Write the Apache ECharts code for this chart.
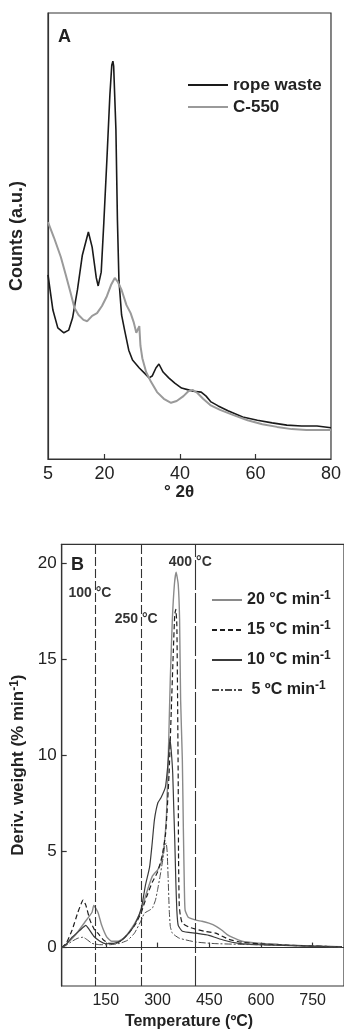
<!DOCTYPE html>
<html><head><meta charset="utf-8">
<script src="https://cdn.jsdelivr.net/npm/echarts@6/dist/echarts.min.js"></script>
<style>html,body{margin:0;padding:0;background:#fff}#c{width:344px;height:1032px}</style>
</head><body><div id="c"></div>
<script>
const FONT = '"Liberation Sans", Arial, Helvetica, sans-serif';

// ---------- Panel A (XRD) ----------
const ropeTheta  = [5.0,6.3,7.6,9.2,10.5,11.5,12.8,14.1,15.7,16.7,17.8,18.3,19.1,19.8,20.6,21.4,21.9,22.2,22.4,23.0,23.4,23.8,24.5,25.3,26.4,27.4,29.2,30.5,31.8,32.6,33.6,34.4,35.5,37.0,38.6,40.4,42.2,43.5,45.6,46.9,48.2,50.1,52.7,56.6,60.5,64.4,68.3,72.2,76.3,80];
const ropeCounts = [41.3,33.4,29.4,28.3,28.9,31.6,37.9,45.7,50.9,47.5,40.6,38.8,41.9,53.1,67.0,81.6,88.3,89.2,88.1,73.8,53.6,40.1,32.3,28.9,24.4,22.2,20.4,19.3,18.2,18.6,20.4,21.3,19.5,18.2,17.0,15.9,15.5,15.2,15.0,14.1,12.8,11.9,10.8,9.4,8.7,8.1,7.6,7.4,7.4,7.0];
const c550Theta  = [5.0,6.6,8.4,9.7,11.0,12.0,13.1,14.4,15.4,16.7,18.0,19.3,20.6,21.7,22.7,23.5,24.5,25.8,26.9,27.7,28.4,29.2,29.5,30.0,31.0,32.3,33.9,35.7,37.6,39.1,40.9,42.2,43.3,44.6,46.1,48.0,50.6,54.0,57.9,61.8,65.7,69.6,73.5,80];
const c550Counts = [53.1,49.6,45.3,41.3,37.2,33.9,32.3,31.2,30.9,32.1,32.7,34.3,36.5,39.0,40.6,39.7,37.9,34.5,32.7,30.7,28.3,29.8,25.4,22.6,19.5,17.3,15.0,13.5,12.6,13.0,14.1,15.2,15.5,14.8,13.5,12.1,11.0,9.9,8.7,7.8,7.2,6.7,6.5,6.5];
const xrdLabels = [5,20,40,60,80];
const xrdTicks = [20,40,60];

// ---------- Panel B (DTG) ----------
const rateNames = ['20 °C min','15 °C min','10 °C min',' 5 ºC min'];
const t20 = [22,35,61,89,110,115,127,138,153,167,185,205,225,242,253,268,285,300,311,320,326,331,337,343,349,354,360,364,367,372,375,378,380,389,411,429,449,470,487,501,516,545,585,651,737,835];
const d20 = [0,0.17,0.64,1.32,1.84,2.2,1.84,1.16,0.54,0.33,0.33,0.54,1.01,1.53,1.95,2.84,3.72,4.04,4.45,5.5,6.91,9.78,13.96,17.09,18.92,19.55,18.92,17.09,12.91,9.78,6.12,3.0,1.95,1.58,1.43,1.37,1.27,1.11,0.9,0.69,0.54,0.33,0.24,0.17,0.09,0.04];
const t15 = [22,35,52,69,84,92,104,118,127,144,161,179,196,219,236,253,268,285,300,314,323,328,334,340,346,350,353,356,358,360,361,363,366,372,392,411,435,469,507,544,593,680,835];
const d15 = [0,0.22,0.9,1.84,2.47,2.21,1.43,0.9,0.75,0.38,0.22,0.22,0.38,0.8,1.22,1.84,2.63,3.41,3.93,4.82,5.86,7.17,9.26,12.39,15.52,17.35,17.61,16.83,13.43,8.74,4.56,2.21,1.69,1.27,1.06,0.96,0.85,0.75,0.43,0.28,0.2,0.12,0.04];
const t10 = [22,35,52,75,92,101,115,133,150,173,196,219,236,253,265,277,284,291,301,310,323,330,336,340,344,347,350,353,356,360,372,411,449,493,536,593,835];
const d10 = [0,0.17,0.54,0.9,1.16,0.96,0.59,0.33,0.2,0.22,0.38,0.8,1.27,2.05,3.25,4.19,5.34,6.65,7.54,7.8,8.37,9.52,10.88,10.2,9.1,7.33,5.6,3.51,1.95,1.16,0.85,0.75,0.64,0.38,0.22,0.15,0.04];
const t5  = [22,35,52,69,84,98,110,133,161,190,213,233,253,262,277,285,294,300,308,316,321,325,328,331,334,337,343,363,411,464,536,651,835];
const d5  = [0,0.12,0.33,0.49,0.54,0.38,0.22,0.15,0.15,0.22,0.38,0.75,1.43,1.79,1.95,2.05,2.47,2.99,3.78,4.66,5.29,5.45,4.98,3.51,1.95,1.11,0.75,0.49,0.29,0.21,0.17,0.12,0.05];
const tempTicks = [150,300,450,600,750];
const derivTicks = [0,5,10,15,20];
const refTemps = [118,253,409];
const refLabels = ['100 °C','250 °C','400 °C'];
const refLabelT = [104,238,395];
const refLabelV = [18.45,17.1,20.07];

const zip = (a,b)=>a.map((v,i)=>[v,b[i]]);
const AX = '#333';

const chart = echarts.init(document.getElementById('c'), null, {renderer:'canvas'});

const lineB = (name, t, d, color, width, type) => ({
  name, type:'line', xAxisIndex:1, yAxisIndex:1, data: zip(t,d), symbol:'none',
  smooth:0.15, lineStyle:{color, width, type}, itemStyle:{color}
});

const hiddenSymbol = {color:'rgba(0,0,0,0)', borderColor:'rgba(0,0,0,0)', borderWidth:0, opacity:0};

const option = {
  animation:false,
  backgroundColor:'#fff',
  textStyle:{fontFamily:FONT},
  grid:[
    {left:47, top:13, right:9, height:446, show:true, borderColor:AX, borderWidth:1.2, backgroundColor:'transparent'},
    {left:61.7, top:544.3, right:-2, height:441.7, show:true, borderColor:AX, borderWidth:1.2, backgroundColor:'transparent'}
  ],
  xAxis:[
    {type:'value', gridIndex:0, min:5, max:80,
     axisLine:{lineStyle:{color:AX,width:1.2}},
     axisTick:{inside:true, length:5, customValues:xrdTicks, lineStyle:{color:AX,width:1.2}},
     axisLabel:{customValues:xrdLabels, fontSize:18, color:'#222', margin:6, fontFamily:FONT},
     splitLine:{show:false}},
    {type:'value', gridIndex:1, min:22, max:841,
     axisLine:{lineStyle:{color:AX,width:1.2}},
     axisTick:{inside:true, length:5, customValues:tempTicks, lineStyle:{color:AX,width:1.2}},
     axisLabel:{customValues:tempTicks, fontSize:16, color:'#222', margin:7, fontFamily:FONT},
     splitLine:{show:false}}
  ],
  yAxis:[
    {type:'value', gridIndex:0, min:0, max:100,
     axisLine:{show:true, lineStyle:{color:AX,width:1.2}},
     axisTick:{show:false}, axisLabel:{show:false}, splitLine:{show:false},
     name:'Counts (a.u.)', nameLocation:'middle', nameGap:22,
     nameTextStyle:{fontSize:18, fontWeight:'bold', color:'#222', fontFamily:FONT}},
    {type:'value', gridIndex:1, min:-2, max:21,
     axisLine:{show:true, lineStyle:{color:AX,width:1.2}},
     axisTick:{inside:true, length:5, customValues:derivTicks, lineStyle:{color:AX,width:1.2}},
     axisLabel:{customValues:derivTicks, fontSize:17, color:'#222', margin:5, fontFamily:FONT},
     splitLine:{show:false},
     name:'{a|Deriv. weight (% min}{s|-1}{a|)}', nameLocation:'middle', nameGap:28,
     nameTextStyle:{rich:{
       a:{fontSize:17, fontWeight:'bold', color:'#222', fontFamily:FONT, lineHeight:20},
       s:{fontSize:12, fontWeight:'bold', color:'#222', fontFamily:FONT, verticalAlign:'top'}
     }}}
  ],
  legend:[
    {data:['rope waste','C-550'], left:182, top:70, orient:'vertical', itemWidth:40, itemHeight:14, itemGap:2,
     itemStyle:hiddenSymbol,
     textStyle:{fontSize:17, fontWeight:'bold', color:'#222', fontFamily:FONT, lineHeight:20}},
    {data:rateNames, left:206, top:585, orient:'vertical', itemWidth:30, itemHeight:14, itemGap:12,
     itemStyle:hiddenSymbol,
     formatter:n=>'{a|'+n+'}{s|-1}',
     textStyle:{rich:{
       a:{fontSize:16, fontWeight:'bold', color:'#222', fontFamily:FONT, lineHeight:20},
       s:{fontSize:12, fontWeight:'bold', color:'#222', fontFamily:FONT, verticalAlign:'top'}
     }}}
  ],
  series:[
    {name:'rope waste', type:'line', xAxisIndex:0, yAxisIndex:0, data:zip(ropeTheta,ropeCounts), symbol:'none',
     lineStyle:{color:'#1a1a1a', width:1.6}, itemStyle:{color:'#1a1a1a'}},
    {name:'C-550', type:'line', xAxisIndex:0, yAxisIndex:0, data:zip(c550Theta,c550Counts), symbol:'none',
     lineStyle:{color:'#9a9a9a', width:2}, itemStyle:{color:'#9a9a9a'}},
    lineB(rateNames[0], t20, d20, '#8a8a8a', 1.4, 'solid'),
    lineB(rateNames[1], t15, d15, '#1e1e1e', 1.2, [5,3]),
    lineB(rateNames[2], t10, d10, '#3a3a3a', 1.2, 'solid'),
    lineB(rateNames[3], t5, d5, '#4a4a4a', 1, [7,2,2,2]),
    {name:'refs', type:'line', xAxisIndex:1, yAxisIndex:1, data:[], symbol:'none', silent:true,
     markLine:{symbol:'none', silent:true, label:{show:false},
       data: refTemps.map((t,i)=>({xAxis:t, lineStyle:{color:'#333', width:1.1, type: i===2 ? [30,3] : [9,3]}}))},
     markPoint:{symbol:'circle', symbolSize:0, silent:true,
       data: refLabels.map((l,i)=>({coord:[refLabelT[i], refLabelV[i]],
         label:{show:true, formatter:l, position:'inside', fontSize:14, fontWeight:'bold', color:'#333', fontFamily:FONT}}))}}
  ],
  graphic:[
    {type:'text', x:58, y:37, style:{text:'A', font:'bold 18px '+FONT, fill:'#222', verticalAlign:'middle', align:'left'}},
    {type:'text', x:71, y:565, style:{text:'B', font:'bold 18px '+FONT, fill:'#222', verticalAlign:'middle', align:'left'}},
    {type:'text', x:179, y:492, style:{text:'° 2θ', font:'bold 17px '+FONT, fill:'#222', verticalAlign:'middle', align:'center'}},
    {type:'text', x:189, y:1022, style:{text:'Temperature (ºC)', font:'bold 16px '+FONT, fill:'#222', verticalAlign:'middle', align:'center'}}
  ]
};
chart.setOption(option);
</script></body></html>
